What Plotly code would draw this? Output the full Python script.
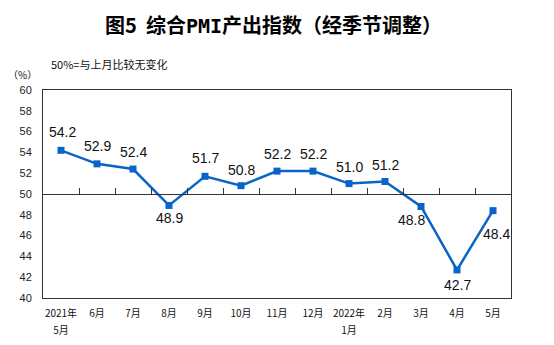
import plotly.graph_objects as go

categories = ["2021年5月", "6月", "7月", "8月", "9月", "10月", "11月", "12月",
              "2022年1月", "2月", "3月", "4月", "5月"]
label_line1 = ["2021年", "6月", "7月", "8月", "9月", "10月", "11月", "12月",
               "2022年", "2月", "3月", "4月", "5月"]
label_line2 = ["5月", "", "", "", "", "", "", "", "1月", "", "", "", ""]
values = [54.2, 52.9, 52.4, 48.9, 51.7, 50.8, 52.2, 52.2, 51.0, 51.2, 48.8, 42.7, 48.4]
y_ticks = [40, 42, 44, 46, 48, 50, 52, 54, 56, 58, 60]

# label offsets (pixels) for the data labels
label_dx = [1, 0, 0, 0, 0, 0, 0, 0, 0, 0, -10, 0, 3]
label_dy = [18, 18, 17, -13, 18, 16, 17, 17, 17, 17, -14, -15, -23]

BLUE = "#0A64C8"
FONT = "Liberation Sans, Arial, Noto Sans CJK SC, sans-serif"
CJK = "Noto Sans CJK SC, sans-serif"

fig = go.Figure()
fig.add_trace(go.Scatter(
    x=categories, y=values, mode="lines+markers",
    line=dict(color=BLUE, width=2.5),
    marker=dict(symbol="square", size=7, color=BLUE),
    hoverinfo="skip", showlegend=False,
))
# invisible traces to create the 50-line axis and the second label row
fig.add_trace(go.Scatter(x=categories, y=values, xaxis="x2", mode="none",
                         showlegend=False, hoverinfo="skip"))
fig.add_trace(go.Scatter(x=categories, y=values, xaxis="x3", mode="none",
                         showlegend=False, hoverinfo="skip"))

for c, v, dx, dy in zip(categories, values, label_dx, label_dy):
    fig.add_annotation(x=c, y=v, text=f"{v:.1f}", showarrow=False,
                       xshift=dx, yshift=dy,
                       font=dict(family=FONT, size=14, color="#111"))

fig.add_annotation(
    xref="paper", yref="paper", x=0.5, xshift=-4, y=1, yshift=66,
    text="<b>图5  综合<span style='font-family:DejaVu Sans Mono'>PMI</span>产出指数（经季节调整）</b>",
    showarrow=False, font=dict(family=CJK, size=20, color="#000"), yanchor="middle")
fig.add_annotation(xref="paper", yref="paper", x=0, xshift=6, y=1, yshift=26,
                   xanchor="left", yanchor="middle",
                   text="50%=与上月比较无变化", showarrow=False,
                   font=dict(family=CJK, size=11, color="#111"))
fig.add_annotation(xref="paper", yref="paper", x=0, xshift=-4, y=1, yshift=16,
                   xanchor="right", yanchor="middle",
                   text="（%）", showarrow=False,
                   font=dict(family=CJK, size=10, color="#111"))

fig.update_layout(
    width=554, height=345,
    margin=dict(l=43, r=43, t=90, b=47),
    paper_bgcolor="white", plot_bgcolor="white",
    xaxis=dict(type="category", showgrid=False, zeroline=False,
               showline=True, linecolor="#333", linewidth=1, mirror=True,
               ticks="", tickvals=categories, ticktext=label_line1,
               tickfont=dict(family=CJK, size=10, color="#111"),
               ticklabelstandoff=6, range=[-0.5, 12.5], automargin=False),
    xaxis2=dict(type="category", overlaying="x", anchor="free", position=0.5,
                side="bottom", showline=True, linecolor="#333", linewidth=1,
                showgrid=False, showticklabels=False, ticks="inside",
                tickson="boundaries", ticklen=6, tickcolor="#333",
                range=[-0.5, 12.5], matches="x", automargin=False),
    xaxis3=dict(type="category", overlaying="x", anchor="y", side="bottom",
                showline=False, showgrid=False, zeroline=False, ticks="",
                tickvals=categories, ticktext=label_line2,
                tickfont=dict(family=CJK, size=10, color="#111"),
                ticklabelstandoff=25, range=[-0.5, 12.5], matches="x",
                automargin=False),
    yaxis=dict(range=[40, 60], tickvals=y_ticks, showgrid=False, zeroline=False,
               showline=True, linecolor="#333", linewidth=1, mirror=True,
               ticks="", tickfont=dict(family=FONT, size=11, color="#222"),
               ticklabelstandoff=8, domain=[0, 1], automargin=False),
)

fig.write_html("out.html")
